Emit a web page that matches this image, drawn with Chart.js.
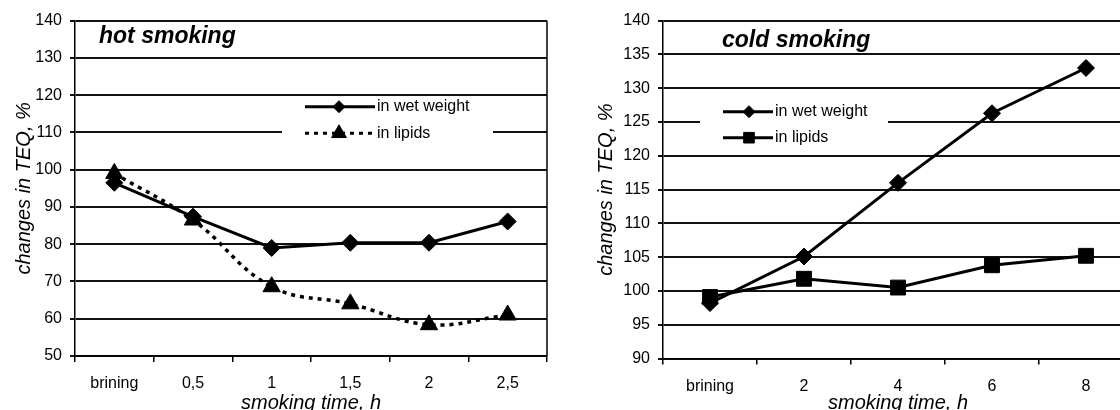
<!DOCTYPE html>
<html>
<head>
<meta charset="utf-8">
<script src="https://cdn.jsdelivr.net/npm/chart.js@4.4.1/dist/chart.umd.min.js"></script>
<style>
  html, body { margin: 0; padding: 0; background: #fff; overflow: hidden; }
  #wrap { position: relative; width: 1120px; height: 410px; overflow: hidden; }
  #hotChart { position: absolute; left: 0; top: 0; }
  #coldChart { position: absolute; left: 560px; top: 0; }
</style>
</head>
<body>
<div id="wrap">
  <canvas id="hotChart" width="560" height="420"></canvas>
  <canvas id="coldChart" width="600" height="420"></canvas>
</div>
<script>
const FONT = 'Arial, "Liberation Sans", sans-serif';
Chart.defaults.font.family = FONT;
Chart.defaults.color = '#000';

// hot smoking
const hotLabels = ['brining', '0,5', '1', '1,5', '2', '2,5'];
const hotWetWeight = [96.5, 87.4, 79.0, 80.4, 80.4, 86.1];
const hotLipids = [99.0, 86.5, 68.6, 64.0, 58.4, 61.0];

// cold smoking
const coldLabels = ['brining', '2', '4', '6', '8'];
const coldWetWeight = [98.2, 105.1, 116.0, 126.3, 133.0];
const coldLipids = [99.1, 101.8, 100.5, 103.8, 105.2];

const seriesNames = ['in wet weight', 'in lipids'];
const xTitle = 'smoking time, h';
const yTitle = 'changes in TEQ, %';

// frame edge, panel caption and the boxed legend inside the plot
const panelDecor = {
    id: 'panelDecor',
    beforeDatasetsDraw(chart, args, opts) {
        const { ctx, chartArea: a } = chart;
        ctx.save();
        ctx.strokeStyle = '#000';
        ctx.lineWidth = 1.5;
        ctx.beginPath();
        ctx.moveTo(a.right, a.top);
        ctx.lineTo(a.right, a.bottom);
        ctx.stroke();

        ctx.fillStyle = '#000';
        ctx.font = 'italic bold 23px ' + FONT;
        ctx.textBaseline = 'alphabetic';
        ctx.fillText(opts.caption, opts.captionX, opts.captionY);

        const L = opts.legend;
        ctx.fillStyle = '#fff';
        ctx.fillRect(L.x, L.y, L.w, L.h);
        ctx.font = '16px ' + FONT;
        ctx.textBaseline = 'middle';
        chart.data.datasets.forEach((ds, i) => {
            const y = L.rowY[i];
            ctx.strokeStyle = '#000';
            ctx.lineWidth = 3;
            ctx.setLineDash(ds.borderDash || []);
            ctx.beginPath();
            ctx.moveTo(L.lineX0, y);
            ctx.lineTo(L.lineX1, y);
            ctx.stroke();
            ctx.setLineDash([]);
            ctx.fillStyle = '#000';
            ctx.lineWidth = 1;
            Chart.helpers.drawPoint(ctx, { pointStyle: ds.pointStyle, radius: L.markR[i], borderWidth: 1, rotation: 0 }, L.markX, y);
            ctx.fillText(ds.label, L.textX, y);
        });
        ctx.restore();
    }
};

function buildScales(yMin, yMax, yStep, yAxisWidth, yTitlePad, xAxisHeight) {
    return {
        x: {
            offset: true,
            grid: { offset: true, drawOnChartArea: false, tickLength: 6, color: '#000', lineWidth: 1.5 },
            border: { color: '#000', width: 1.5 },
            ticks: { padding: 12, font: { size: 16 }, maxRotation: 0, autoSkip: false },
            title: { display: true, text: xTitle, font: { size: 20, style: 'italic' }, padding: { top: 0, bottom: 5 } },
            afterFit: (s) => { s.height = xAxisHeight; }
        },
        y: {
            min: yMin,
            max: yMax,
            ticks: { stepSize: yStep, padding: 8, font: { size: 16 } },
            grid: { color: '#111', lineWidth: 2, tickLength: 5 },
            border: { color: '#000', width: 1.5 },
            title: { display: true, text: yTitle, font: { size: 20, style: 'italic' }, padding: { top: yTitlePad, bottom: 0 } },
            afterFit: (s) => { s.width = yAxisWidth; }
        }
    };
}

const hotCtx = document.getElementById('hotChart').getContext('2d');
const hotChart = new Chart(hotCtx, {
    type: 'line',
    data: {
        labels: hotLabels,
        datasets: [{
            label: seriesNames[0],
            data: hotWetWeight,
            borderColor: '#000',
            backgroundColor: '#000',
            borderWidth: 3,
            pointStyle: 'rectRot',
            pointRadius: 8.5,
            pointBorderWidth: 1,
            tension: 0
        }, {
            label: seriesNames[1],
            data: hotLipids,
            borderColor: '#000',
            backgroundColor: '#000',
            borderWidth: 3.5,
            borderDash: [4, 5],
            pointStyle: 'triangle',
            pointRadius: 10,
            pointBorderWidth: 1,
            tension: 0.4
        }]
    },
    options: {
        responsive: false,
        animation: false,
        layout: { padding: { top: 20.7, right: 13, left: 0, bottom: 0 } },
        scales: buildScales(50, 140, 10, 75, 12, 64),
        plugins: {
            legend: { display: false },
            tooltip: { enabled: false },
            panelDecor: {
                caption: 'hot smoking', captionX: 99, captionY: 43,
                legend: { x: 282, y: 97, w: 211, h: 48, rowY: [106.7, 133.3], lineX0: 305, lineX1: 375, markX: 339, textX: 377, markR: [6, 8.5] }
            }
        }
    },
    plugins: [panelDecor]
});

const coldCtx = document.getElementById('coldChart').getContext('2d');
const coldChart = new Chart(coldCtx, {
    type: 'line',
    data: {
        labels: coldLabels,
        datasets: [{
            label: seriesNames[0],
            data: coldWetWeight,
            borderColor: '#000',
            backgroundColor: '#000',
            borderWidth: 3,
            pointStyle: 'rectRot',
            pointRadius: 8.5,
            pointBorderWidth: 1,
            tension: 0
        }, {
            label: seriesNames[1],
            data: coldLipids,
            borderColor: '#000',
            backgroundColor: '#000',
            borderWidth: 3,
            pointStyle: 'rect',
            pointRadius: 10.5,
            pointBorderWidth: 1,
            tension: 0
        }]
    },
    options: {
        responsive: false,
        animation: false,
        layout: { padding: { top: 20.7, right: 27, left: 0, bottom: 0 } },
        scales: buildScales(90, 140, 5, 103, 34, 61.5),
        plugins: {
            legend: { display: false },
            tooltip: { enabled: false },
            panelDecor: {
                caption: 'cold smoking', captionX: 162, captionY: 46.5,
                legend: { x: 140, y: 92, w: 188, h: 60, rowY: [111.7, 137.7], lineX0: 163, lineX1: 213, markX: 189, textX: 215, markR: [6, 7.5] }
            }
        }
    },
    plugins: [panelDecor]
});
</script>
</body>
</html>
